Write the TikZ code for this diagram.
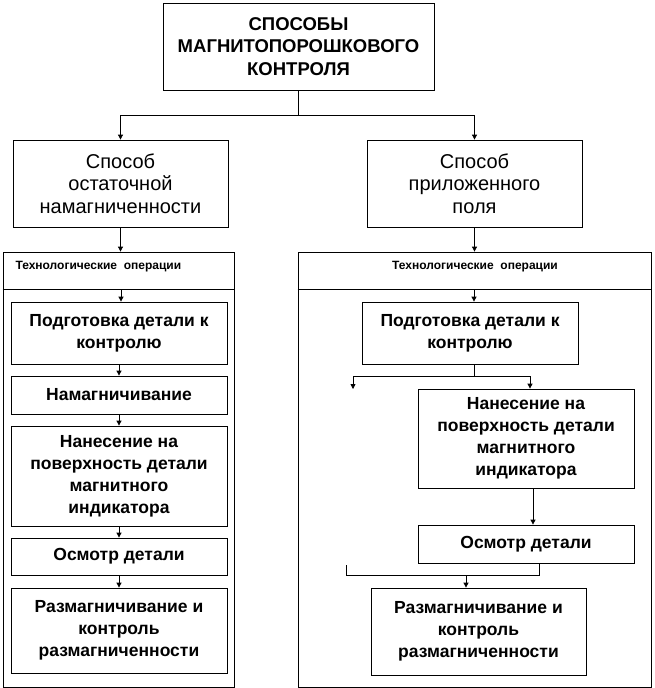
\documentclass[tikz,border=0pt]{standalone}
\usepackage{fontspec}
\setmainfont{Liberation Sans}
\usetikzlibrary{positioning,arrows.meta}

\begin{document}
\begin{tikzpicture}[x=1pt,y=-1pt,
	box/.style={draw,line width=0.8pt,align=center,inner sep=0pt},
	stepbox/.style={box,minimum width=216pt,font=\bfseries\fontsize{17.5}{22}\selectfont},
	ln/.style={line width=0.8pt},
	arr/.style={line width=0.8pt,-{Triangle[length=5pt,width=5pt]}}]
	\useasboundingbox (0,0) rectangle (654,688);

	\node[box,minimum width=271pt,minimum height=87pt,font=\bfseries\fontsize{18.5}{22.5}\selectfont] (title) at (298.5,46.5) {СПОСОБЫ\\МАГНИТОПОРОШКОВОГО\\КОНТРОЛЯ};
	\node[box,minimum width=215pt,minimum height=87pt,font=\fontsize{20}{22.5}\selectfont] (resid) at (120.5,183.5) {Способ\\остаточной\\намагниченности};
	\node[box,minimum width=215pt,minimum height=87pt,font=\fontsize{20}{22.5}\selectfont] (applied) at (474.5,183.5) {Способ\\приложенного\\поля};

	% frames with operations
	\node[box,minimum width=231pt,minimum height=435pt] (frameL) at (118.5,469.5) {};
	\node[box,minimum width=353pt,minimum height=435pt] (frameR) at (474.5,469.5) {};
	\coordinate (divL) at (121,289);
	\coordinate (divR) at (474,289);
	\draw[ln] (frameL.west |- divL) -- (frameL.east |- divL);
	\draw[ln] (frameR.west |- divR) -- (frameR.east |- divR);
	\node[anchor=west,font=\bfseries\fontsize{12}{14}\selectfont] (headL) at (12,267) {Технологические\ \ операции};
	\node[font=\bfseries\fontsize{12}{14}\selectfont] (headR) at (475,267) {Технологические\ \ операции};

	\node[stepbox,minimum height=62pt] (prepL) at (119,333) {Подготовка детали к\\контролю};
	\node[stepbox,minimum height=38pt] (magL) at (119,395) {Намагничивание};
	\node[stepbox,minimum height=100pt] (applyL) at (119,476) {Нанесение на\\поверхность детали\\магнитного\\индикатора};
	\node[stepbox,minimum height=37pt] (inspL) at (119,556.5) {Осмотр детали};
	\node[stepbox,minimum height=85pt] (demagL) at (119,630.5) {Размагничивание и\\контроль\\размагниченности};

	\node[stepbox,minimum height=62pt] (prepR) at (470,333) {Подготовка детали к\\контролю};
	\node[stepbox,minimum height=99pt] (applyR) at (526,438.5) {Нанесение на\\поверхность детали\\магнитного\\индикатора};
	\node[stepbox,minimum height=38pt] (inspR) at (526,544) {Осмотр детали};
	\node[stepbox,minimum width=215pt,minimum height=87pt] (demagR) at (478.5,631.5) {Размагничивание и\\контроль\\размагниченности};

	% connectors
	\coordinate (fork) at (298.5,115);
	\draw[ln] (title.south) -- (fork);
	\draw[arr] (fork) -| (resid.north);
	\draw[arr] (fork) -| (applied.north);
	\draw[arr] (resid.south) -- (resid.south |- frameL.north);
	\draw[arr] (applied.south) -- (applied.south |- frameR.north);

	\draw[arr] (divL) -- (divL |- prepL.north);
	\draw[arr] (prepL) -- (magL);
	\draw[arr] (magL) -- (applyL);
	\draw[arr] (applyL) -- (inspL);
	\draw[arr] (inspL) -- (demagL);

	\draw[arr] (divR) -- (divR |- prepR.north);
	\coordinate (splitR) at (474,376);
	\coordinate (freeR) at (353,389);
	\draw[ln] (splitR |- prepR.south) -- (splitR);
	\draw[arr] (splitR) -| (freeR);
	\draw[arr] (splitR) -| ([xshift=4pt]applyR.north);
	\draw[arr] ([xshift=7pt]applyR.south) -- ([xshift=7pt]inspR.north);
	\coordinate (brL) at (346,565);
	\coordinate (brM) at (466,575);
	\draw[ln] (brL) |- ([xshift=13pt]inspR.south |- brM) -- ([xshift=13pt]inspR.south);
	\draw[arr] (brM) -- (brM |- demagR.north);
\end{tikzpicture}
\end{document}
